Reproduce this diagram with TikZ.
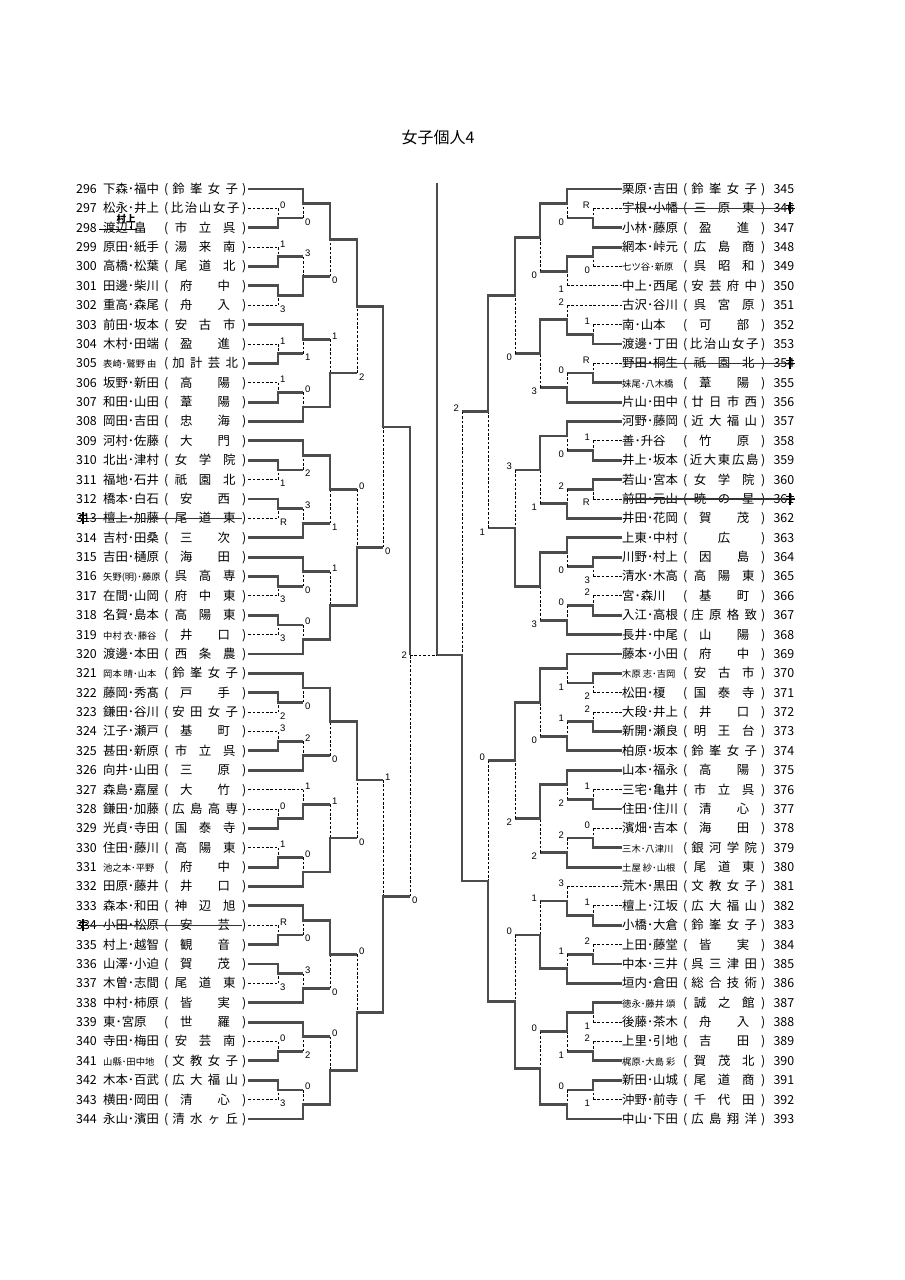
\documentclass[tikz,border=0pt]{standalone}
\usepackage{fontspec}
\setmainfont{Noto Sans CJK JP}
\newfontfamily\labfont{Liberation Sans}
\usetikzlibrary{calc}

\def\fst#1#2\fstE{#1}
\def\sprd#1{\hskip0pt plus .4fill\sprdA#1\sprdE\hskip0pt plus .4fill}
\def\sprdA#1#2\sprdE{#1\ifx\relax#2\relax\else\hfill\sprdA#2\sprdE\fi}
\newcommand\sm{\fontsize{9.3}{9.3}\selectfont}

\tikzset{
  win/.style={line width=2.8pt, draw=black!70},
  lose/.style={line width=0.9pt, draw=black, dash pattern=on 2.6pt off 1.8pt},
  lab/.style={font=\labfont\fontsize{9.5}{9.5}\selectfont, inner sep=0.5pt},
  rowtxt/.style={font=\fontsize{12.4}{12.4}\selectfont, inner sep=0pt},
  strike/.style={line width=1.1pt, draw=black!80},
}

% players
\newcommand\PL[5]{%
  \pgfmathsetmacro\yy{189+19.375*(#1-296)}%
  \node[rowtxt, anchor=base west] (t#1) at (76,-\yy-4.4)
    {\makebox[27pt][l]{#1}\makebox[59pt][l]{#4}\makebox[8pt]{(}\makebox[70pt][s]{\sprd{#5}}\makebox[8pt]{)}};
  \coordinate (p#1) at (#2,-\yy);
  \draw[#3] (t#1.east |- p#1) -- (p#1);
}
\newcommand\PR[5]{%
  \pgfmathsetmacro\yy{189+19.375*(#1-345)}%
  \node[rowtxt, anchor=base west] (t#1) at (622,-\yy-4.4)
    {\makebox[59pt][l]{#4}\makebox[8pt]{(}\makebox[70pt][s]{\sprd{#5}}\makebox[8pt]{)}\makebox[27pt][r]{#1}};
  \coordinate (p#1) at (#2,-\yy);
  \draw[#3] (p#1) -- (t#1.west |- p#1);
}

% winner / loser branches
\newcommand\Wn[2]{%
  \if p\fst#1\fstE
    \draw[win, shorten <=-1.4pt] (#1) -- (#2);
  \else
    \draw[win, shorten <=-1.4pt] (#1) -- (#1 -| #2) -- (#2);
  \fi}
\newcommand\Ls[2]{%
  \if p\fst#1\fstE
    \draw[lose] (#1) -- (#2);
  \else
    \draw[win, shorten <=-1.4pt] (#1) -- (#1 -| #2);
    \draw[lose] (#1 -| #2) -- (#2);
  \fi}
\newcommand\Lab[5]{%
  \if L#5
    \if t#4
      \node[lab, anchor=south west, xshift=1.5pt, yshift=-0.8pt] at (#1 -| #2) {#3};
    \else
      \node[lab, anchor=north west, xshift=1.5pt, yshift=0.3pt] at (#1 -| #2) {#3};
    \fi
  \else
    \if t#4
      \node[lab, anchor=south east, xshift=-2.5pt, yshift=-0.8pt] at (#1 -| #2) {#3};
    \else
      \node[lab, anchor=north east, xshift=-2.5pt, yshift=0.3pt] at (#1 -| #2) {#3};
    \fi
  \fi}
\newcommand\MTdraw[6]{%
  \if t#4
    \Wn{#2}{#1}\Ls{#3}{#1}\Lab{#3}{#1}{#5}{b}{#6}%
  \else
    \Wn{#3}{#1}\Ls{#2}{#1}\Lab{#2}{#1}{#5}{t}{#6}%
  \fi}
% #1 res, #2 top, #3 bottom, #4 x, #5 winner t/b, #6 loser score, #7 side
\newcommand\MT[7]{%
  \coordinate (X#1) at (#4,0);
  \coordinate (#1) at ($(#2 -| X#1)!.5!(#3 -| X#1)$);
  \MTdraw{#1}{#2}{#3}{#5}{#6}{#7}}
\newcommand\MF[8]{%
  \coordinate (#1) at (#4,-#8);
  \MTdraw{#1}{#2}{#3}{#5}{#6}{#7}}
\newcommand\kmark[2]{%
  \draw[line width=1.3pt] (#1,#2+6) -- (#1,#2-6);
  \draw[line width=1pt] (#1-4,#2+3) -- (#1+4,#2+3);
  \draw[line width=1pt] (#1-4.5,#2-0.5) -- (#1+4.5,#2-0.5);}

\begin{document}
\begin{tikzpicture}[x=1pt,y=1pt]
\useasboundingbox (0,0) rectangle (905,-1280);
\fill[white] (0,0) rectangle (905,-1280);

\node[font=\fontsize{16}{16}\selectfont, inner sep=0pt] (title) at (438,-137) {女子個人4};

% ---------------- left players
\PL{296}{303}{win}{下森･福中}{鈴峯女子}
\PL{297}{278}{lose}{松永･井上}{比治山女子}
\PL{298}{278}{win}{渡辺･畠}{市立呉}
\PL{299}{278}{lose}{原田･紙手}{湯来南}
\PL{300}{278}{win}{高橋･松葉}{尾道北}
\PL{301}{278}{win}{田邊･柴川}{府中}
\PL{302}{278}{lose}{重高･森尾}{舟入}
\PL{303}{303}{win}{前田･坂本}{安古市}
\PL{304}{278}{lose}{木村･田端}{盈進}
\PL{305}{278}{win}{\sm 表崎･鷲野 由}{加計芸北}
\PL{306}{278}{lose}{坂野･新田}{高陽}
\PL{307}{278}{win}{和田･山田}{葦陽}
\PL{308}{303}{win}{岡田･吉田}{忠海}
\PL{309}{303}{win}{河村･佐藤}{大門}
\PL{310}{278}{win}{北出･津村}{女学院}
\PL{311}{278}{lose}{福地･石井}{祇園北}
\PL{312}{278}{win}{橋本･白石}{安西}
\PL{313}{278}{lose}{檀上･加藤}{尾道東}
\PL{314}{303}{win}{吉村･田桑}{三次}
\PL{315}{303}{win}{吉田･樋原}{海田}
\PL{316}{278}{win}{\sm 矢野(明)･藤原}{呉高専}
\PL{317}{278}{lose}{在間･山岡}{府中東}
\PL{318}{278}{win}{名賀･島本}{高陽東}
\PL{319}{278}{lose}{\sm 中村 衣･藤谷}{井口}
\PL{320}{303}{win}{渡邊･本田}{西条農}
\PL{321}{303}{win}{\sm 岡本 晴･山本}{鈴峯女子}
\PL{322}{278}{win}{藤岡･秀髙}{戸手}
\PL{323}{278}{lose}{鎌田･谷川}{安田女子}
\PL{324}{278}{lose}{江子･瀬戸}{基町}
\PL{325}{278}{win}{甚田･新原}{市立呉}
\PL{326}{303}{win}{向井･山田}{三原}
\PL{327}{303}{lose}{森島･嘉屋}{大竹}
\PL{328}{278}{lose}{鎌田･加藤}{広島高専}
\PL{329}{278}{win}{光貞･寺田}{国泰寺}
\PL{330}{278}{lose}{住田･藤川}{高陽東}
\PL{331}{278}{win}{\sm 池之本･平野}{府中}
\PL{332}{303}{win}{田原･藤井}{井口}
\PL{333}{303}{win}{森本･和田}{神辺旭}
\PL{334}{278}{lose}{小田･松原}{安芸}
\PL{335}{278}{win}{村上･越智}{観音}
\PL{336}{278}{win}{山澤･小迫}{賀茂}
\PL{337}{278}{lose}{木曽･志間}{尾道東}
\PL{338}{303}{win}{中村･柿原}{皆実}
\PL{339}{303}{win}{東･宮原}{世羅}
\PL{340}{278}{lose}{寺田･梅田}{安芸南}
\PL{341}{278}{win}{\sm 山縣･田中地}{文教女子}
\PL{342}{278}{win}{木本･百武}{広大福山}
\PL{343}{278}{lose}{横田･岡田}{清心}
\PL{344}{303}{win}{永山･濱田}{清水ヶ丘}

% ---------------- right players
\PR{345}{567}{win}{栗原･吉田}{鈴峯女子}
\PR{346}{593}{lose}{宇根･小幡}{三原東}
\PR{347}{593}{win}{小林･藤原}{盈進}
\PR{348}{593}{win}{網本･峠元}{広島商}
\PR{349}{593}{lose}{\sm 七ツ谷･新原}{呉昭和}
\PR{350}{567}{lose}{中上･西尾}{安芸府中}
\PR{351}{567}{lose}{古沢･谷川}{呉宮原}
\PR{352}{593}{lose}{南･山本}{可部}
\PR{353}{593}{win}{渡邊･丁田}{比治山女子}
\PR{354}{593}{lose}{野田･桐生}{祇園北}
\PR{355}{593}{win}{\sm 妹尾･八木橋}{葦陽}
\PR{356}{567}{win}{片山･田中}{廿日市西}
\PR{357}{567}{win}{河野･藤岡}{近大福山}
\PR{358}{593}{lose}{善･升谷}{竹原}
\PR{359}{593}{win}{井上･坂本}{近大東広島}
\PR{360}{593}{win}{若山･宮本}{女学院}
\PR{361}{593}{lose}{前田･元山}{暁の星}
\PR{362}{567}{win}{井田･花岡}{賀茂}
\PR{363}{567}{win}{上東･中村}{広}
\PR{364}{593}{win}{川野･村上}{因島}
\PR{365}{593}{lose}{清水･木高}{高陽東}
\PR{366}{593}{lose}{宮･森川}{基町}
\PR{367}{593}{win}{入江･高根}{庄原格致}
\PR{368}{567}{win}{長井･中尾}{山陽}
\PR{369}{567}{win}{藤本･小田}{府中}
\PR{370}{593}{win}{\sm 木原 志･吉岡}{安古市}
\PR{371}{593}{lose}{松田･榎}{国泰寺}
\PR{372}{593}{lose}{大段･井上}{井口}
\PR{373}{593}{win}{新開･瀬良}{明王台}
\PR{374}{567}{win}{柏原･坂本}{鈴峯女子}
\PR{375}{567}{win}{山本･福永}{高陽}
\PR{376}{593}{lose}{三宅･亀井}{市立呉}
\PR{377}{593}{win}{住田･住川}{清心}
\PR{378}{593}{lose}{濱畑･吉本}{海田}
\PR{379}{593}{win}{\sm 三木･八津川}{銀河学院}
\PR{380}{567}{win}{\sm 土屋 紗･山根}{尾道東}
\PR{381}{567}{lose}{荒木･黒田}{文教女子}
\PR{382}{593}{lose}{檀上･江坂}{広大福山}
\PR{383}{593}{win}{小橋･大倉}{鈴峯女子}
\PR{384}{593}{lose}{上田･藤堂}{皆実}
\PR{385}{593}{win}{中本･三井}{呉三津田}
\PR{386}{567}{win}{垣内･倉田}{総合技術}
\PR{387}{593}{win}{\sm 徳永･藤井 頌}{誠之館}
\PR{388}{593}{lose}{後藤･茶木}{舟入}
\PR{389}{593}{lose}{上里･引地}{吉田}
\PR{390}{593}{win}{\sm 梶原･大島 彩}{賀茂北}
\PR{391}{593}{win}{新田･山城}{尾道商}
\PR{392}{593}{lose}{沖野･前寺}{千代田}
\PR{393}{567}{win}{中山･下田}{広島翔洋}

% ---------------- left matches
\MT{m1}{p297}{p298}{278}{b}{0}{L}
\MT{m2}{p296}{m1}{303}{t}{0}{L}
\MT{m3}{p299}{p300}{278}{b}{1}{L}
\MT{m4}{p301}{p302}{278}{t}{3}{L}
\MT{m5}{m3}{m4}{303}{b}{3}{L}
\MT{m6}{m2}{m5}{330}{t}{0}{L}
\MT{m7}{p304}{p305}{278}{b}{1}{L}
\MT{m8}{p303}{m7}{303}{t}{1}{L}
\MT{m9}{p306}{p307}{278}{b}{1}{L}
\MT{m10}{m9}{p308}{303}{b}{0}{L}
\MT{m11}{m8}{m10}{330}{b}{1}{L}
\MT{m12}{m6}{m11}{357}{t}{2}{L}
\MT{m13}{p310}{p311}{278}{t}{1}{L}
\MT{m14}{p309}{m13}{303}{t}{2}{L}
\MT{m15}{p312}{p313}{278}{t}{R}{L}
\MT{m16}{m15}{p314}{303}{b}{3}{L}
\MT{m17}{m14}{m16}{330}{t}{1}{L}
\MT{m18}{p316}{p317}{278}{t}{3}{L}
\MT{m19}{p315}{m18}{303}{t}{0}{L}
\MT{m20}{p318}{p319}{278}{t}{3}{L}
\MT{m21}{m20}{p320}{303}{b}{0}{L}
\MT{m22}{m19}{m21}{330}{b}{1}{L}
\MT{m23}{m17}{m22}{357}{b}{0}{L}
\MT{m24}{m12}{m23}{383}{t}{0}{L}
\MT{m25}{p322}{p323}{278}{t}{2}{L}
\MT{m26}{p321}{m25}{303}{t}{0}{L}
\MT{m27}{p324}{p325}{278}{b}{3}{L}
\MT{m28}{m27}{p326}{303}{b}{2}{L}
\MT{m29}{m26}{m28}{330}{t}{0}{L}
\MT{m30}{p328}{p329}{278}{b}{0}{L}
\MT{m31}{p327}{m30}{303}{b}{1}{L}
\MT{m32}{p330}{p331}{278}{b}{1}{L}
\MT{m33}{m32}{p332}{303}{b}{0}{L}
\MT{m34}{m31}{m33}{330}{b}{1}{L}
\MT{m35}{m29}{m34}{357}{t}{0}{L}
\MT{m36}{p334}{p335}{278}{b}{R}{L}
\MT{m37}{p333}{m36}{303}{t}{0}{L}
\MT{m38}{p336}{p337}{278}{t}{3}{L}
\MT{m39}{m38}{p338}{303}{b}{3}{L}
\MT{m40}{m37}{m39}{330}{t}{0}{L}
\MT{m41}{p340}{p341}{278}{b}{0}{L}
\MT{m42}{p339}{m41}{303}{t}{2}{L}
\MT{m43}{p342}{p343}{278}{t}{3}{L}
\MT{m44}{m43}{p344}{303}{b}{0}{L}
\MT{m45}{m42}{m44}{330}{b}{0}{L}
\MT{m46}{m40}{m45}{357}{b}{0}{L}
\MT{m47}{m35}{m46}{383}{b}{1}{L}
\MF{m48}{m24}{m47}{410}{t}{0}{L}{655}

% ---------------- right matches
\MT{r1}{p346}{p347}{593}{b}{R}{R}
\MT{r2}{p345}{r1}{567}{t}{0}{R}
\MT{r3}{p348}{p349}{593}{t}{0}{R}
\MT{r4}{r3}{p350}{567}{t}{1}{R}
\MT{r5}{r2}{r4}{540}{t}{0}{R}
\MT{r6}{p352}{p353}{593}{b}{1}{R}
\MT{r7}{p351}{r6}{567}{b}{2}{R}
\MT{r8}{p354}{p355}{593}{b}{R}{R}
\MT{r9}{r8}{p356}{567}{b}{0}{R}
\MT{r10}{r7}{r9}{540}{t}{3}{R}
\MT{r11}{r5}{r10}{515}{t}{0}{R}
\MT{r12}{p358}{p359}{593}{b}{1}{R}
\MT{r13}{p357}{r12}{567}{t}{0}{R}
\MT{r14}{p360}{p361}{593}{t}{R}{R}
\MT{r15}{r14}{p362}{567}{b}{2}{R}
\MT{r16}{r13}{r15}{540}{t}{1}{R}
\MT{r17}{p364}{p365}{593}{t}{3}{R}
\MT{r18}{p363}{r17}{567}{t}{0}{R}
\MT{r19}{p366}{p367}{593}{b}{2}{R}
\MT{r20}{r19}{p368}{567}{b}{0}{R}
\MT{r21}{r18}{r20}{540}{t}{3}{R}
\MT{r22}{r16}{r21}{515}{b}{3}{R}
\MT{r23}{r11}{r22}{488}{t}{1}{R}
\MT{r24}{p370}{p371}{593}{t}{2}{R}
\MT{r25}{p369}{r24}{567}{t}{1}{R}
\MT{r26}{p372}{p373}{593}{b}{2}{R}
\MT{r27}{r26}{p374}{567}{b}{1}{R}
\MT{r28}{r25}{r27}{540}{t}{0}{R}
\MT{r29}{p376}{p377}{593}{b}{1}{R}
\MT{r30}{p375}{r29}{567}{t}{2}{R}
\MT{r31}{p378}{p379}{593}{b}{0}{R}
\MT{r32}{r31}{p380}{567}{b}{2}{R}
\MT{r33}{r30}{r32}{540}{t}{2}{R}
\MT{r34}{r28}{r33}{515}{t}{2}{R}
\MT{r35}{p382}{p383}{593}{b}{1}{R}
\MT{r36}{p381}{r35}{567}{b}{3}{R}
\MT{r37}{p384}{p385}{593}{b}{2}{R}
\MT{r38}{r37}{p386}{567}{b}{1}{R}
\MT{r39}{r36}{r38}{540}{b}{1}{R}
\MT{r40}{p387}{p388}{593}{t}{1}{R}
\MT{r41}{p389}{p390}{593}{b}{2}{R}
\MT{r42}{r40}{r41}{567}{t}{1}{R}
\MT{r43}{p391}{p392}{593}{t}{1}{R}
\MT{r44}{r43}{p393}{567}{b}{0}{R}
\MT{r45}{r42}{r44}{540}{b}{0}{R}
\MT{r46}{r39}{r45}{515}{b}{0}{R}
\MT{r47}{r34}{r46}{488}{b}{0}{R}
\MF{r48}{r23}{r47}{462}{b}{2}{R}{655}

% ---------------- final
\coordinate (cf) at (437,-655);
\coordinate (ctop) at (437,-183);
\draw[win, shorten <=-1.4pt] (r48) -- (cf) -- (ctop);
\draw[lose] (m48) -- (cf);
\node[lab, anchor=east, xshift=-2.5pt] at (m48) {2};

% ---------------- withdrawals and corrections
\draw[strike] (78,-518.4) -- (242,-518.4);
\kmark{83}{-518.4}
\draw[strike] (78,-925.3) -- (242,-925.3);
\kmark{83}{-925.3}
\draw[strike] (624,-208.4) -- (795,-208.4);
\kmark{790}{-208.4}
\draw[strike] (624,-363.4) -- (795,-363.4);
\kmark{790}{-363.4}
\draw[strike] (624,-499) -- (795,-499);
\kmark{790}{-499}
\draw[line width=0.9pt] (99,-229) -- (131,-229) -- (131,-222);
\draw[line width=0.9pt] (131,-229) -- (137,-229);
\node[font=\fontsize{9.5}{9.5}\selectfont\bfseries, inner sep=0pt] (murakami) at (126,-218.5) {村上};
\end{tikzpicture}
\end{document}
